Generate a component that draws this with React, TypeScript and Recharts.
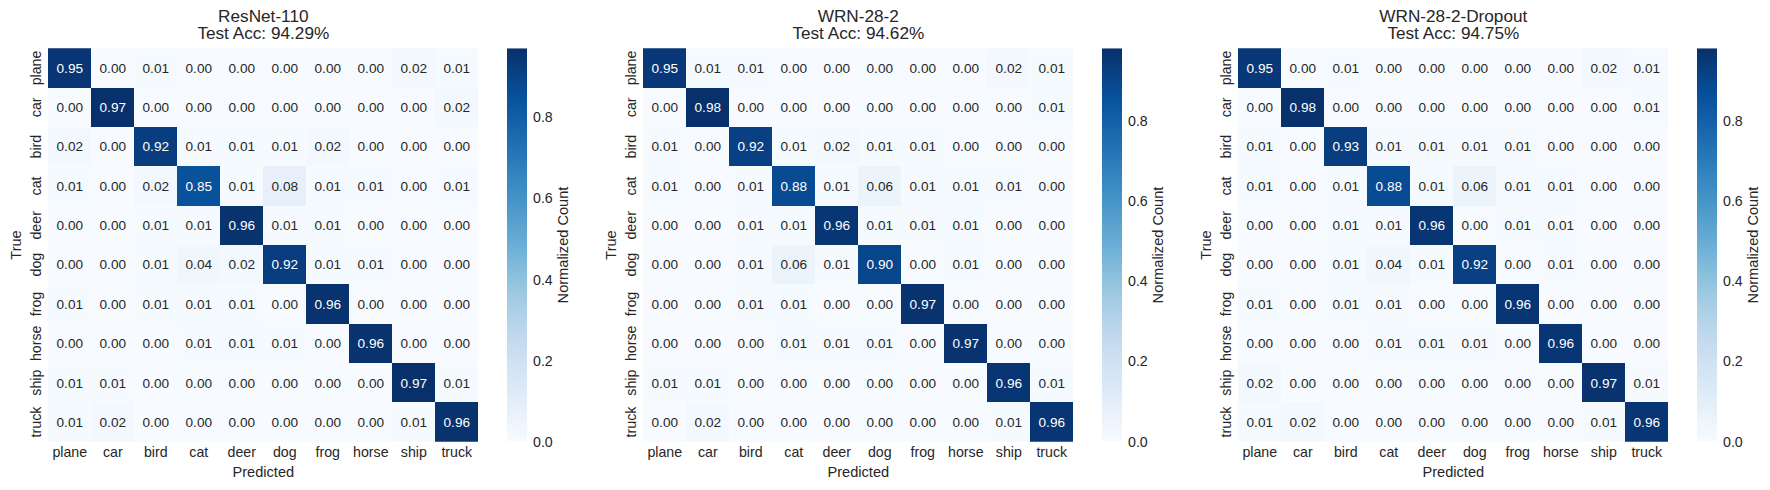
import { BarChart, Bar, XAxis, YAxis } from "recharts"

// CIFAR-10 classes, used for both axes
const classes = ["plane", "car", "bird", "cat", "deer", "dog", "frog", "horse", "ship", "truck"]

const modelNames = ["ResNet-110", "WRN-28-2", "WRN-28-2-Dropout"]
const testAcc = [94.29, 94.62, 94.75]

// rows = true class, columns = predicted class
const resnet110 = [
  [0.95, 0.0, 0.01, 0.0, 0.0, 0.0, 0.0, 0.0, 0.02, 0.01],
  [0.0, 0.97, 0.0, 0.0, 0.0, 0.0, 0.0, 0.0, 0.0, 0.02],
  [0.02, 0.0, 0.92, 0.01, 0.01, 0.01, 0.02, 0.0, 0.0, 0.0],
  [0.01, 0.0, 0.02, 0.85, 0.01, 0.08, 0.01, 0.01, 0.0, 0.01],
  [0.0, 0.0, 0.01, 0.01, 0.96, 0.01, 0.01, 0.0, 0.0, 0.0],
  [0.0, 0.0, 0.01, 0.04, 0.02, 0.92, 0.01, 0.01, 0.0, 0.0],
  [0.01, 0.0, 0.01, 0.01, 0.01, 0.0, 0.96, 0.0, 0.0, 0.0],
  [0.0, 0.0, 0.0, 0.01, 0.01, 0.01, 0.0, 0.96, 0.0, 0.0],
  [0.01, 0.01, 0.0, 0.0, 0.0, 0.0, 0.0, 0.0, 0.97, 0.01],
  [0.01, 0.02, 0.0, 0.0, 0.0, 0.0, 0.0, 0.0, 0.01, 0.96],
]

const wrn282 = [
  [0.95, 0.01, 0.01, 0.0, 0.0, 0.0, 0.0, 0.0, 0.02, 0.01],
  [0.0, 0.98, 0.0, 0.0, 0.0, 0.0, 0.0, 0.0, 0.0, 0.01],
  [0.01, 0.0, 0.92, 0.01, 0.02, 0.01, 0.01, 0.0, 0.0, 0.0],
  [0.01, 0.0, 0.01, 0.88, 0.01, 0.06, 0.01, 0.01, 0.01, 0.0],
  [0.0, 0.0, 0.01, 0.01, 0.96, 0.01, 0.01, 0.01, 0.0, 0.0],
  [0.0, 0.0, 0.01, 0.06, 0.01, 0.9, 0.0, 0.01, 0.0, 0.0],
  [0.0, 0.0, 0.01, 0.01, 0.0, 0.0, 0.97, 0.0, 0.0, 0.0],
  [0.0, 0.0, 0.0, 0.01, 0.01, 0.01, 0.0, 0.97, 0.0, 0.0],
  [0.01, 0.01, 0.0, 0.0, 0.0, 0.0, 0.0, 0.0, 0.96, 0.01],
  [0.0, 0.02, 0.0, 0.0, 0.0, 0.0, 0.0, 0.0, 0.01, 0.96],
]

const wrn282Dropout = [
  [0.95, 0.0, 0.01, 0.0, 0.0, 0.0, 0.0, 0.0, 0.02, 0.01],
  [0.0, 0.98, 0.0, 0.0, 0.0, 0.0, 0.0, 0.0, 0.0, 0.01],
  [0.01, 0.0, 0.93, 0.01, 0.01, 0.01, 0.01, 0.0, 0.0, 0.0],
  [0.01, 0.0, 0.01, 0.88, 0.01, 0.06, 0.01, 0.01, 0.0, 0.0],
  [0.0, 0.0, 0.01, 0.01, 0.96, 0.0, 0.01, 0.01, 0.0, 0.0],
  [0.0, 0.0, 0.01, 0.04, 0.01, 0.92, 0.0, 0.01, 0.0, 0.0],
  [0.01, 0.0, 0.01, 0.01, 0.0, 0.0, 0.96, 0.0, 0.0, 0.0],
  [0.0, 0.0, 0.0, 0.01, 0.01, 0.01, 0.0, 0.96, 0.0, 0.0],
  [0.02, 0.0, 0.0, 0.0, 0.0, 0.0, 0.0, 0.0, 0.97, 0.01],
  [0.01, 0.02, 0.0, 0.0, 0.0, 0.0, 0.0, 0.0, 0.01, 0.96],
]

const matrices = [resnet110, wrn282, wrn282Dropout]
const colorbarTicks = [0, 0.2, 0.4, 0.6, 0.8]

// matplotlib "Blues"
const BLUES = ["#f7fbff", "#deebf7", "#c6dbef", "#9ecae1", "#6baed6", "#4292c6", "#2171b5", "#08519c", "#08306b"]

const FONT = '"Liberation Sans", Arial, sans-serif'
const INK = "#262626"

const PANEL_STEP = 595
const PLOT_LEFT = 48.3
const PLOT_TOP = 48.3
const PLOT_BOTTOM = 441.7
const PLOT_W = 430
const CB_LEFT = 507
const CB_W = 20

const hexToRgb = (h: string) => [1, 3, 5].map((k) => parseInt(h.slice(k, k + 2), 16))

function bluesRgb(t: number) {
  const c = Math.max(0, Math.min(1, t)) * (BLUES.length - 1)
  const i = Math.min(BLUES.length - 2, Math.floor(c))
  const f = c - i
  const a = hexToRgb(BLUES[i])
  const b = hexToRgb(BLUES[i + 1])
  return a.map((v, k) => Math.round(v + (b[k] - v) * f))
}

const rgbStr = (c: number[]) => `rgb(${c[0]},${c[1]},${c[2]})`

function luminance(c: number[]) {
  const lin = c.map((v) => {
    const s = v / 255
    return s <= 0.03928 ? s / 12.92 : Math.pow((s + 0.055) / 1.055, 2.4)
  })
  return 0.2126 * lin[0] + 0.7152 * lin[1] + 0.0722 * lin[2]
}

function CellShape(props: any) {
  const { x, y, width, height, payload, rowIdx, vmax } = props
  const v = payload[`v${rowIdx}`]
  const col = bluesRgb(v / vmax)
  const y0 = Math.min(y, y + height)
  const h = Math.abs(height)
  const fs = 13.6
  return (
    <g>
      <rect x={x} y={y0} width={width} height={h} fill={rgbStr(col)} shapeRendering="crispEdges" />
      <text
        x={x + width / 2}
        y={y0 + h / 2 + fs * 0.355}
        textAnchor="middle"
        fontSize={fs}
        fontFamily={FONT}
        fill={luminance(col) > 0.408 ? INK : "#ffffff"}
      >
        {v.toFixed(2)}
      </text>
    </g>
  )
}

function Heatmap({ matrix }: { matrix: number[][] }) {
  const vmax = Math.max(...matrix.flat())
  const data = classes.map((c, j) => {
    const row: Record<string, any> = { pred: c }
    classes.forEach((_, i) => {
      row[`r${i}`] = 1
      row[`v${i}`] = matrix[i][j]
    })
    return row
  })
  const chartW = 500

  return (
    <BarChart
      width={chartW}
      height={490}
      data={data}
      margin={{ top: PLOT_TOP, right: chartW - PLOT_LEFT - PLOT_W, bottom: 0, left: 0 }}
      barCategoryGap={0}
      barGap={0}
    >
      <XAxis
        dataKey="pred"
        type="category"
        height={490 - PLOT_BOTTOM}
        axisLine={false}
        tickLine={false}
        tickSize={0}
        tickMargin={0}
        interval={0}
        tick={(p: any) => (
          <text x={p.x} y={p.y + 15.5} textAnchor="middle" fontSize={14.2} fontFamily={FONT} fill={INK}>
            {p.payload.value}
          </text>
        )}
      />
      <YAxis
        type="number"
        domain={[0, classes.length]}
        reversed
        allowDataOverflow
        width={PLOT_LEFT}
        ticks={classes.map((_, i) => i + 0.5)}
        axisLine={false}
        tickLine={false}
        tickSize={0}
        tickMargin={7.4}
        interval={0}
        tick={(p: any) => (
          <text
            x={p.x}
            y={p.y}
            transform={`rotate(-90 ${p.x} ${p.y})`}
            textAnchor="middle"
            fontSize={14.2}
            fontFamily={FONT}
            fill={INK}
          >
            {classes[Math.floor(p.payload.value)]}
          </text>
        )}
      />
      {classes.map((_, i) => (
        <Bar
          key={i}
          dataKey={`r${i}`}
          stackId="cm"
          isAnimationActive={false}
          shape={(p: any) => <CellShape {...p} rowIdx={i} vmax={vmax} />}
        />
      ))}
    </BarChart>
  )
}

function Colorbar({ vmax, id }: { vmax: number; id: string }) {
  const axisW = 50
  const stops = Array.from({ length: 17 }, (_, k) => k / 16)
  return (
    <BarChart
      width={CB_LEFT + CB_W + axisW}
      height={490}
      data={[{ name: "cb", v: vmax }]}
      margin={{ top: PLOT_TOP, right: 0, bottom: 490 - PLOT_BOTTOM, left: CB_LEFT }}
      barCategoryGap={0}
    >
      <defs>
        <linearGradient id={id} x1="0" y1="0" x2="0" y2="1">
          {stops.map((o) => (
            <stop key={o} offset={o} stopColor={rgbStr(bluesRgb(1 - o))} />
          ))}
        </linearGradient>
      </defs>
      <XAxis dataKey="name" hide />
      <YAxis
        orientation="right"
        type="number"
        domain={[0, vmax]}
        allowDataOverflow
        ticks={colorbarTicks}
        width={axisW}
        axisLine={false}
        tickLine={false}
        tickSize={0}
        tickMargin={6}
        tickFormatter={(v: number) => v.toFixed(1)}
        tick={{ fill: INK, fontSize: 14.2, fontFamily: FONT }}
      />
      <Bar dataKey="v" fill={`url(#${id})`} isAnimationActive={false} />
    </BarChart>
  )
}

export default function App() {
  return (
    <div style={{ position: "absolute", left: 0, top: 0, width: 1770, height: 490, background: "#fff", overflow: "hidden" }}>
      {matrices.map((m, p) => (
        <div key={p} style={{ position: "absolute", left: p * PANEL_STEP, top: 0, width: PANEL_STEP, height: 490 }}>
          <div style={{ position: "absolute", left: 0, top: 0 }}>
            <Heatmap matrix={m} />
          </div>
          <div style={{ position: "absolute", left: 0, top: 0 }}>
            <Colorbar vmax={Math.max(...m.flat())} id={`cb-grad-${p}`} />
          </div>
        </div>
      ))}
      <svg width={1770} height={490} style={{ position: "absolute", left: 0, top: 0, pointerEvents: "none" }}>
        {modelNames.map((name, p) => {
          const ox = p * PANEL_STEP
          const cx = ox + PLOT_LEFT + PLOT_W / 2
          const cy = (PLOT_TOP + PLOT_BOTTOM) / 2
          return (
            <g key={name} fontFamily={FONT} fill={INK}>
              <text x={cx} y={21.7} textAnchor="middle" fontSize={17.2}>
                {name}
              </text>
              <text x={cx} y={39.2} textAnchor="middle" fontSize={17.2}>
                {`Test Acc: ${testAcc[p].toFixed(2)}%`}
              </text>
              <text x={cx} y={477} textAnchor="middle" fontSize={14.6}>
                Predicted
              </text>
              <text x={ox + 21} y={cy} transform={`rotate(-90 ${ox + 21} ${cy})`} textAnchor="middle" fontSize={14.6}>
                True
              </text>
              <text
                x={ox + 568}
                y={cy}
                transform={`rotate(-90 ${ox + 568} ${cy})`}
                textAnchor="middle"
                fontSize={14.6}
              >
                Normalized Count
              </text>
            </g>
          )
        })}
      </svg>
    </div>
  )
}
